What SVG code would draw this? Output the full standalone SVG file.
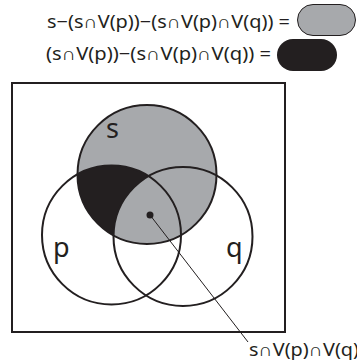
<svg xmlns="http://www.w3.org/2000/svg" width="357" height="364" viewBox="0 0 357 364">
<style>
.t{font-family:"Noto Sans","Open Sans","Liberation Sans",sans-serif;fill:#231f20}
.f{font-size:18px}
.big{font-size:27px}
.ring{fill:none;stroke:#231f20;stroke-width:2}
</style>
<defs>
<clipPath id="cs"><circle cx="147" cy="174.5" r="69.5"/></clipPath>
<clipPath id="cp"><circle cx="111.5" cy="235" r="69.5"/></clipPath>
</defs>
<rect width="357" height="364" fill="#fff"/>
<g id="legend">
<text class="t f" x="47" y="28" textLength="243" lengthAdjust="spacingAndGlyphs">s−(s∩V(p))−(s∩V(p)∩V(q)) =</text>
<rect x="297.5" y="4.5" width="58" height="31" rx="15.5" fill="#a7a9ac" stroke="#231f20" stroke-width="1"/>
<text class="t f" x="46" y="60" textLength="225" lengthAdjust="spacingAndGlyphs">(s∩V(p))−(s∩V(p)∩V(q)) =</text>
<rect x="277" y="39" width="60" height="32" rx="16" fill="#231f20"/>
</g>
<g id="universe">
<rect x="12" y="83" width="273" height="249" fill="none" stroke="#231f20" stroke-width="2"/>
</g>
<g id="regions">
<circle cx="147" cy="174.5" r="69.5" fill="#a7a9ac"/>
<g clip-path="url(#cs)"><circle cx="111.5" cy="235" r="69.5" fill="#231f20"/></g>
<g clip-path="url(#cs)"><g clip-path="url(#cp)"><circle cx="183" cy="236.5" r="69.5" fill="#a7a9ac"/></g></g>
</g>
<g id="s"><circle class="ring" cx="147" cy="174.5" r="69.5"/><text class="t big" x="106" y="138">s</text></g>
<g id="p"><circle class="ring" cx="111.5" cy="235" r="69.5"/><text class="t big" x="53" y="257">p</text></g>
<g id="q"><circle class="ring" cx="183" cy="236.5" r="69.5"/><text class="t big" x="226" y="257">q</text></g>
<g id="connectors">
<circle cx="150" cy="215" r="3.5" fill="#231f20"/>
<line x1="150" y1="215" x2="248" y2="342" stroke="#231f20" stroke-width="1"/>
</g>
<g id="label"><text class="t f" x="249" y="356" textLength="110" lengthAdjust="spacingAndGlyphs">s∩V(p)∩V(q)</text></g>
</svg>
